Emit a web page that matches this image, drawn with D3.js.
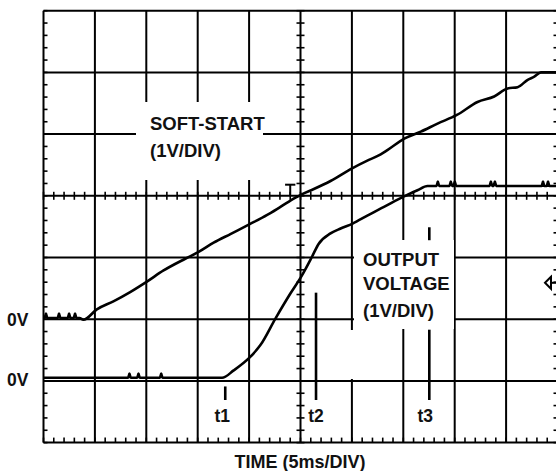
<!DOCTYPE html>
<html><head><meta charset="utf-8">
<script src="https://cdn.jsdelivr.net/npm/d3@7/dist/d3.min.js"></script>
<style>
html,body{margin:0;padding:0;background:#fff;}
svg{display:block;}
text{font-family:"Liberation Sans",Arial,sans-serif;font-weight:bold;fill:#111;}
</style></head>
<body><div id="chart"></div>
<script>
// ---- data (time in ms, 5 ms/div; voltages in V, 1 V/div) ----
const softTime = [0, 3.5, 3.88, 5.19, 6.80, 8.43, 10.06, 11.68, 13.79, 15.09, 16.55, 18.18, 20.06, 21.76, 23.05, 24.51, 25.07, 26.30, 27.92, 30.07, 31.50, 32.80, 33.45, 35.14, 36.70, 38.33, 40.21, 42.22, 43.84, 45.15, 46.12, 47.10, 47.74, 48.39, 50];
const softVolt = [0.02, 0.02, -0.01, 0.16, 0.29, 0.44, 0.61, 0.79, 0.98, 1.09, 1.24, 1.38, 1.54, 1.69, 1.82, 1.97, 2.02, 2.11, 2.24, 2.45, 2.57, 2.67, 2.74, 2.93, 3.04, 3.17, 3.31, 3.52, 3.61, 3.74, 3.76, 3.88, 3.93, 4.0, 4.0];
const outTime = [0, 17.37, 18.50, 20.06, 21.10, 22.56, 24.03, 25.07, 26.14, 26.76, 27.92, 28.90, 30.07, 31.50, 33.12, 35.07, 36.38, 37.35, 50];
const outVolt = [0.05, 0.05, 0.17, 0.38, 0.58, 1.01, 1.42, 1.69, 2.02, 2.22, 2.39, 2.47, 2.55, 2.68, 2.82, 2.99, 3.09, 3.16, 3.16];
const softSpikes = [0.24, 1.51, 2.49, 3.07];
const outSpikes = [8.36, 9.24, 11.45, 38.36, 39.62, 40.01, 43.52, 43.91, 48.59, 49.08];
const softGround = -2;   // divisions from screen centre
const outGround = -3;
const timeMarkers = ["t1", "t2", "t3"];
const markerTime = [17.68, 26.51, 37.53];
const groundLabels = ["0V", "0V"];
const labelSoft = ["SOFT-START", "(1V/DIV)"];
const labelOut = ["OUTPUT", "VOLTAGE", "(1V/DIV)"];
const xTitle = "TIME (5ms/DIV)";

const W = 556, H = 471;
const svg = d3.select("#chart").append("svg").attr("width", W).attr("height", H);

const x = d3.scaleLinear().domain([0, 50]).range([43.5, 557.5]);
const y = d3.scaleLinear().domain([-4, 3]).range([442.6, 10.7]); // divisions

const g = svg.append("g");
const line = (x1, y1, x2, y2, w) => g.append("line").attr("x1", x1).attr("y1", y1).attr("x2", x2).attr("y2", y2)
  .attr("stroke", "#000").attr("stroke-width", w || 2);

// grid
d3.range(0, 51, 5).forEach(t => line(x(t), y(3), x(t), y(-4)));
d3.range(-4, 4, 1).forEach(d => line(x(0), y(d), x(50), y(d)));

// ticks on centre axes and borders
d3.range(0, 50.01, 1).forEach(t => {
  line(x(t), y(0) - 4, x(t), y(0) + 4, 1.6);
  line(x(t), y(-4), x(t), y(-4) - 5, 1.6);
});
d3.range(-4, 3.01, 0.2).forEach(d => {
  line(x(25) - 4, y(d), x(25) + 4, y(d), 1.6);
  line(x(0), y(d), x(0) + 4, y(d), 1.6);
  line(x(50), y(d), x(50) - 4, y(d), 1.6);
});

// label boxes hiding grid
g.append("rect").attr("x", 136).attr("y", 102).attr("width", 127).attr("height", 78).attr("fill", "#fff");
g.append("rect").attr("x", 354).attr("y", 240).attr("width", 100).attr("height", 89).attr("fill", "#fff");
g.append("rect").attr("x", 349).attr("y", 330).attr("width", 6).attr("height", 49).attr("fill", "#fff");

// traces
function withSpikes(ts, vs, spikes) {
  const pts = ts.map((t, i) => [t, vs[i]]);
  const interp = t => { for (let i = 1; i < ts.length; i++) if (t <= ts[i]) { const f = (t - ts[i-1]) / (ts[i] - ts[i-1]); return vs[i-1] + f * (vs[i] - vs[i-1]); } return vs[vs.length-1]; };
  spikes.forEach(s => { const v = interp(s); pts.push([s - 0.12, v], [s, v + 0.07], [s + 0.12, v]); });
  pts.sort((a, b) => a[0] - b[0]);
  return pts;
}
const path = (pts, off) => d3.line().curve(d3.curveMonotoneX).x(d => x(d[0])).y(d => y(d[1] + off))(pts);
g.append("path").attr("d", path(withSpikes(softTime, softVolt, softSpikes), softGround))
  .attr("fill", "none").attr("stroke", "#000").attr("stroke-width", 2.6).attr("stroke-linejoin", "round");
g.append("path").attr("d", path(withSpikes(outTime, outVolt, outSpikes), outGround))
  .attr("fill", "none").attr("stroke", "#000").attr("stroke-width", 2.6).attr("stroke-linejoin", "round");

// trigger marker
line(x(23.5), y(0.18), x(24.5), y(0.18), 2);
line(x(24), y(0.18), x(24), y(0), 2);

// ground arrow
g.append("path").attr("d", `M551,${y(-1.41)-6}L545,${y(-1.41)}L551,${y(-1.41)+6}Z`).attr("fill", "#fff").attr("stroke", "#000").attr("stroke-width", 2);
line(551, y(-1.41), 557, y(-1.41), 2);

// time markers
line(x(markerTime[0]), y(-3.09), x(markerTime[0]), y(-3.31), 2.6);
line(x(markerTime[1]), y(-1.57), x(markerTime[1]), y(-3.31), 2.6);
line(x(markerTime[2]), y(-0.51), x(markerTime[2]), y(-0.72), 2.6);
line(x(markerTime[2]), y(-2.17), x(markerTime[2]), y(-3.31), 2.6);
const tx = [-3, 0, -4];
timeMarkers.forEach((m, i) => svg.append("text").attr("x", x(markerTime[i]) + tx[i]).attr("y", 422)
  .attr("text-anchor", "middle").attr("font-size", 17.5).text(m));

// labels
labelSoft.forEach((s, i) => svg.append("text").attr("x", 150).attr("y", [130, 157][i]).attr("font-size", 18.5).text(s));
labelOut.forEach((s, i) => svg.append("text").attr("x", 363).attr("y", [266, 290, 317][i]).attr("font-size", 18.5).text(s));
svg.append("text").attr("x", 7).attr("y", y(softGround) + 7).attr("font-size", 17.5).text(groundLabels[0]);
svg.append("text").attr("x", 7).attr("y", y(outGround) + 5).attr("font-size", 17.5).text(groundLabels[1]);
svg.append("text").attr("x", 300).attr("y", 468).attr("text-anchor", "middle").attr("font-size", 18).text(xTitle);
</script></body></html>
